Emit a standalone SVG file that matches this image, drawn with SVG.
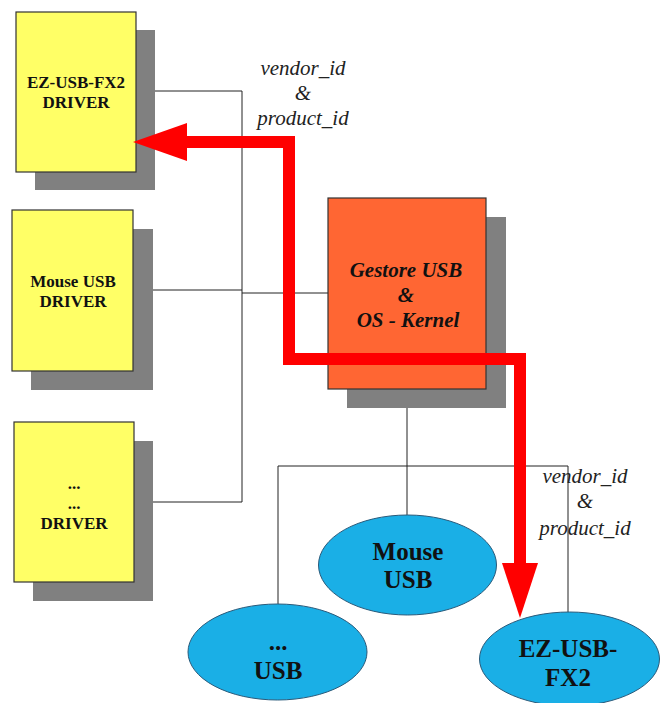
<svg xmlns="http://www.w3.org/2000/svg" width="664" height="703" viewBox="0 0 664 703">
<style>
.shadow{fill:#808080}
.drv{fill:#FFFF66;stroke:#333;stroke-width:1.2}
.core{fill:#FF6633;stroke:#333;stroke-width:1.2}
.dev{fill:#1AAFE6;stroke:#2a5a7a;stroke-width:1}
.wire{fill:none;stroke:#222;stroke-width:1}
.red{fill:none;stroke:#FF0000;stroke-width:12;stroke-linejoin:miter}
.head{fill:#FF0000}
text{font-family:'Liberation Serif','DejaVu Serif','Times New Roman',serif}
.bt{font-weight:bold;font-size:17px;fill:#111;text-anchor:middle}
.ct{font-weight:bold;font-style:italic;font-size:21px;fill:#111;text-anchor:middle}
.et{font-weight:bold;font-size:25px;fill:#111;text-anchor:middle}
.it{font-style:italic;font-size:21px;fill:#222;text-anchor:middle}
</style>
<rect width="664" height="703" fill="#fff"/>
<g id="connectors">
<polyline class="wire" points="136,91 242,91 242,502 134,502"/>
<line class="wire" x1="133" y1="290" x2="242" y2="290"/>
<line class="wire" x1="242" y1="293" x2="328" y2="293"/>
<polyline class="wire" points="407,389 407,466"/>
<polyline class="wire" points="278,604 278,466 568,466 568,612"/>
<line class="wire" x1="407" y1="466" x2="407" y2="515"/>
</g>
<g id="drv-ezusb">
<rect class="shadow" x="35" y="30" width="120" height="160"/>
<rect class="drv" x="16" y="12" width="120" height="160"/>
<text class="bt" x="76" y="88">EZ-USB-FX2</text>
<text class="bt" x="76" y="108">DRIVER</text>
</g>
<g id="drv-mouse">
<rect class="shadow" x="31" y="229" width="122" height="161"/>
<rect class="drv" x="12" y="210" width="121" height="161"/>
<text class="bt" x="73" y="287">Mouse USB</text>
<text class="bt" x="73" y="307">DRIVER</text>
</g>
<g id="drv-other">
<rect class="shadow" x="33" y="441" width="120" height="160"/>
<rect class="drv" x="14" y="422" width="120" height="160"/>
<text class="bt" x="74" y="489">...</text>
<text class="bt" x="74" y="509">...</text>
<text class="bt" x="74" y="529">DRIVER</text>
</g>
<g id="core">
<rect class="shadow" x="347" y="217" width="159" height="191"/>
<rect class="core" x="328" y="198" width="158" height="191"/>
<text class="ct" x="406" y="277">Gestore USB</text>
<text class="ct" x="406" y="302">&amp;</text>
<text class="ct" x="408" y="327">OS - Kernel</text>
</g>
<g id="dev-mouse">
<ellipse class="dev" cx="407.5" cy="565" rx="89" ry="50"/>
<text class="et" x="408" y="560">Mouse</text>
<text class="et" x="408" y="588">USB</text>
</g>
<g id="dev-other">
<ellipse class="dev" cx="277.5" cy="652" rx="89.5" ry="48"/>
<text class="et" x="278" y="650">...</text>
<text class="et" x="278" y="679">USB</text>
</g>
<g id="dev-ezusb">
<ellipse class="dev" cx="569.5" cy="659" rx="90" ry="47"/>
<text class="et" x="568" y="657">EZ-USB-</text>
<text class="et" x="568" y="686">FX2</text>
</g>
<g id="labels">
<text class="it" x="303" y="75">vendor_id</text>
<text class="it" x="303" y="100">&amp;</text>
<text class="it" x="303" y="125">product_id</text>
<text class="it" x="585" y="483">vendor_id</text>
<text class="it" x="585" y="508">&amp;</text>
<text class="it" x="585" y="535">product_id</text>
</g>
<g id="flow">
<polyline class="red" points="186,142 289,142 289,359 520,359 520,564"/>
<polygon class="head" points="133,142 187,123 187,161"/>
<polygon class="head" points="520,618 502,563 538,563"/>
</g>
</svg>
